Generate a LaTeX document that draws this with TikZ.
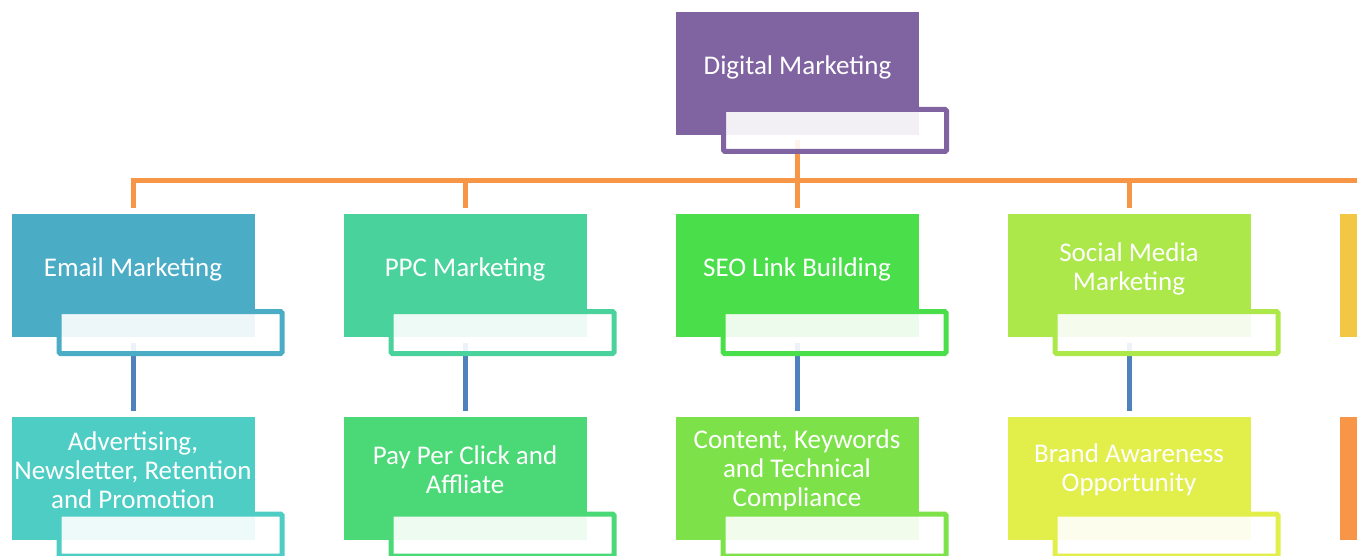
\documentclass[tikz,border=0pt]{standalone}
\usepackage{fontspec}
\setmainfont{Carlito}
\definecolor{cTop}{HTML}{8064A2}
\definecolor{cA}{HTML}{4BACC6}
\definecolor{cB}{HTML}{4AD29C}
\definecolor{cC}{HTML}{4ADE4A}
\definecolor{cD}{HTML}{ACE84A}
\definecolor{cE}{HTML}{F2C744}
\definecolor{gA}{HTML}{4ECDC4}
\definecolor{gB}{HTML}{4AD976}
\definecolor{gC}{HTML}{7DE24A}
\definecolor{gD}{HTML}{E2EE4A}
\definecolor{gE}{HTML}{F79646}
\definecolor{busc}{HTML}{F79646}
\definecolor{linkc}{HTML}{4F81BD}
\begin{document}
\begin{tikzpicture}[x=1pt,y=-1pt,
  box/.style={rectangle, fill=#1, minimum width=243pt, minimum height=123pt, inner sep=0pt, outer sep=0pt},
  txt/.style={text=white, font=\fontsize{27}{29}\selectfont, align=center, inner sep=0pt},
  tag/.style={draw=#1, line width=5pt, fill=white, fill opacity=0.9, rounded corners=1.5pt},
  busline/.style={draw=busc, line width=5pt},
  linkline/.style={draw=linkc, line width=5pt}]
\useasboundingbox (0,0) rectangle (1357,556);
\clip (0,0) rectangle (1357,556);
% boxes
\node[box=cTop] (dm) at (797.5,73.5) {};
\node[box=cA] (b1) at (133,275.5) {};
\node[box=cB] (b2) at (465,275.5) {};
\node[box=cC] (b3) at (797,275.5) {};
\node[box=cD] (b4) at (1129,275.5) {};
\node[box=cE] (b5) at (1461,275.5) {};
\node[box=gA] (g1) at (133,478) {};
\node[box=gB] (g2) at (465,478) {};
\node[box=gC] (g3) at (797,478) {};
\node[box=gD] (g4) at (1129,478) {};
\node[box=gE] (g5) at (1461,478) {};
% bus connectors
\coordinate (busL) at (130.5,180.5);
\coordinate (busR) at (1463.5,180.5);
\draw[busline] (busL) -- (busR);
\draw[busline] ([yshift=-5pt]dm.south -| b3.north) -- ([yshift=6pt]b3.north);
\foreach \b in {b1,b2,b4,b5}{
  \draw[busline] (\b.north |- busL) -- ([yshift=6pt]\b.north);
}
% child links
\foreach \b/\g in {b1/g1,b2/g2,b3/g3,b4/g4}{
  \draw[linkline] ([yshift=-6pt]\b.south) -- ([yshift=6pt]\g.north);
}
% tag boxes
\foreach \n/\c in {dm/cTop,b1/cA,b2/cB,b3/cC,b4/cD,g1/gA,g2/gB,g3/gC,g4/gD}{
  \draw[tag=\c] ([xshift=47.5pt,yshift=25.5pt]\n.south west) rectangle ([xshift=27.5pt,yshift=-16.5pt]\n.south east);
}
% texts
\node[txt] (tdm) at ([yshift=6.5pt]dm.center) {Digital Marketing};
\node[txt] (t1) at ([yshift=6.5pt]b1.center) {Email Marketing};
\node[txt] (t2) at ([yshift=6.5pt]b2.center) {PPC Marketing};
\node[txt] (t3) at ([yshift=6.5pt]b3.center) {SEO Link Building};
\node[txt] (t4) at ([yshift=7pt]b4.center) {Social Media\\Marketing};
\node[txt] (u1) at ([yshift=8pt]g1.center) {Advertising,\\Newsletter, Retention\\and Promotion};
\node[txt] (u2) at ([yshift=8pt]g2.center) {Pay Per Click and\\Affliate};
\node[txt] (u3) at ([yshift=8pt]g3.center) {Content, Keywords\\and Technical\\Compliance};
\node[txt] (u4) at ([yshift=8pt]g4.center) {Brand Awareness\\Opportunity};
\end{tikzpicture}
\end{document}
